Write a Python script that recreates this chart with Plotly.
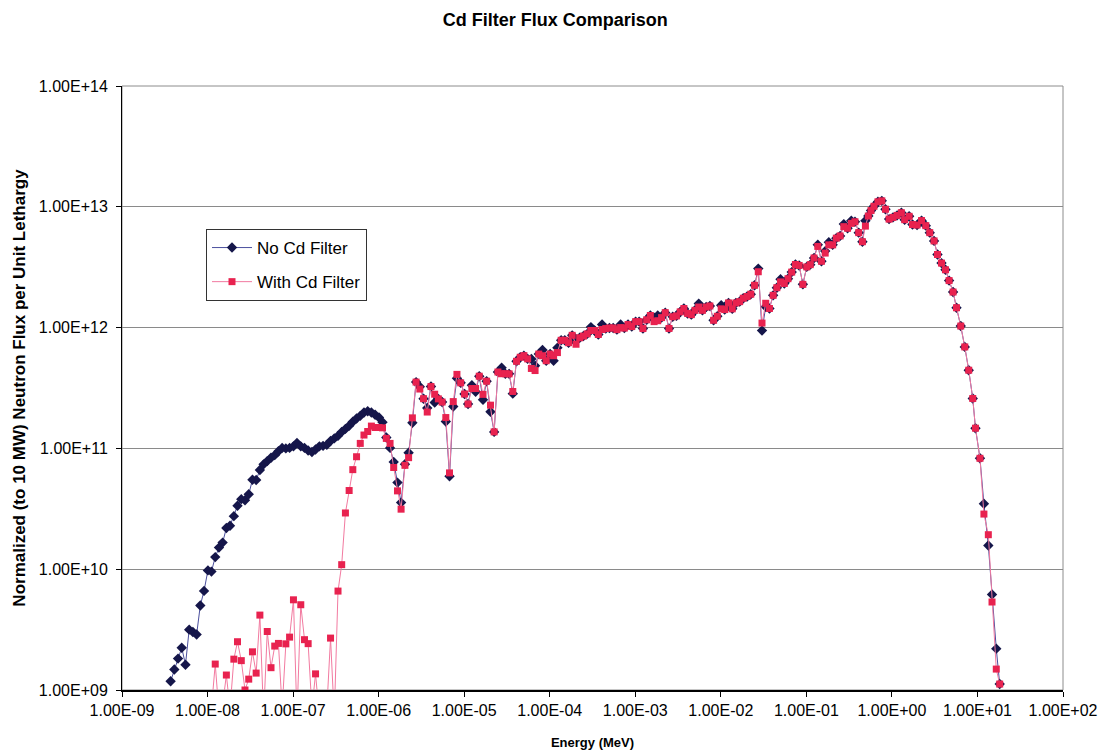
import plotly.graph_objects as go

# Group energies (MeV), lethargy-type grid, ascending
energy_mev = [
    3.70e-9, 4.09e-9, 4.52e-9, 4.99e-9, 5.52e-9, 6.10e-9, 6.74e-9, 7.45e-9, 8.23e-9, 9.10e-9,
    1.01e-8, 1.11e-8, 1.23e-8, 1.36e-8, 1.50e-8, 1.66e-8, 1.83e-8,
    2.03e-8, 2.24e-8, 2.48e-8, 2.74e-8, 3.03e-8, 3.35e-8, 3.70e-8, 4.09e-8, 4.52e-8, 4.99e-8,
    5.52e-8, 6.10e-8, 6.74e-8, 7.45e-8, 8.23e-8, 9.10e-8, 1.01e-7, 1.11e-7, 1.23e-7, 1.36e-7,
    1.50e-7, 1.66e-7, 1.83e-7,
    2.03e-7, 2.24e-7, 2.48e-7, 2.74e-7, 3.03e-7, 3.35e-7, 3.70e-7, 4.09e-7, 4.52e-7, 4.99e-7,
    5.52e-7, 6.10e-7, 6.74e-7, 7.45e-7, 8.23e-7, 9.10e-7, 1.01e-6, 1.11e-6, 1.23e-6, 1.36e-6,
    1.50e-6, 1.66e-6, 1.83e-6,
    2.03e-6, 2.24e-6, 2.48e-6, 2.74e-6, 3.03e-6, 3.35e-6, 3.70e-6, 4.09e-6, 4.52e-6, 4.99e-6,
    5.52e-6, 6.10e-6, 6.74e-6, 7.45e-6, 8.23e-6, 9.10e-6, 1.01e-5, 1.11e-5, 1.23e-5, 1.36e-5,
    1.50e-5, 1.66e-5, 1.83e-5,
    2.03e-5, 2.24e-5, 2.48e-5, 2.74e-5, 3.03e-5, 3.35e-5, 3.70e-5, 4.09e-5, 4.52e-5, 4.99e-5,
    5.52e-5, 6.10e-5, 6.74e-5, 7.45e-5, 8.23e-5, 9.10e-5, 1.01e-4, 1.11e-4, 1.23e-4, 1.36e-4,
    1.50e-4, 1.66e-4, 1.83e-4,
    2.03e-4, 2.24e-4, 2.48e-4, 2.74e-4, 3.03e-4, 3.35e-4, 3.70e-4, 4.09e-4, 4.52e-4, 4.99e-4,
    5.52e-4, 6.10e-4, 6.74e-4, 7.45e-4, 8.23e-4, 9.10e-4, 1.01e-3, 1.11e-3, 1.23e-3, 1.36e-3,
    1.50e-3, 1.66e-3, 1.83e-3,
    2.03e-3, 2.24e-3, 2.48e-3, 2.74e-3, 3.03e-3, 3.35e-3, 3.70e-3, 4.09e-3, 4.52e-3, 4.99e-3,
    5.52e-3, 6.10e-3, 6.74e-3, 7.45e-3, 8.23e-3, 9.10e-3, 1.01e-2, 1.11e-2, 1.23e-2, 1.36e-2,
    1.50e-2, 1.66e-2, 1.83e-2,
    2.03e-2, 2.24e-2, 2.48e-2, 2.74e-2, 3.03e-2, 3.35e-2, 3.70e-2, 4.09e-2, 4.52e-2, 4.99e-2,
    5.52e-2, 6.10e-2, 6.74e-2, 7.45e-2, 8.23e-2, 9.10e-2, 1.01e-1, 1.11e-1, 1.23e-1, 1.36e-1,
    1.50e-1, 1.66e-1, 1.83e-1,
    2.03e-1, 2.24e-1, 2.48e-1, 2.74e-1, 3.03e-1, 3.35e-1, 3.70e-1, 4.09e-1, 4.52e-1,
    0.490, 0.530, 0.570, 0.617, 0.687, 0.762, 0.841, 0.927, 1.03, 1.15,
    1.29, 1.41, 1.59, 1.74, 1.97, 2.22, 2.49, 2.77, 3.11, 3.41,
    3.80, 4.23, 4.66, 5.19, 5.69, 6.38, 7.11, 7.91, 8.81, 9.48,
    10.7, 11.9, 13.4, 14.8, 16.6, 18.2,
]

# Flux per unit lethargy, no cadmium filter
flux_no_cd = [
    1.18e9, 1.48e9, 1.82e9, 2.24e9, 1.62e9, 3.16e9, 3.02e9, 2.88e9, 5.01e9, 6.61e9,
    9.77e9, 9.55e9, 1.26e10, 1.51e10, 1.66e10, 2.19e10, 2.29e10, 2.75e10, 3.35e10, 3.80e10,
    3.72e10, 4.17e10, 5.50e10, 5.47e10, 6.62e10, 7.38e10, 7.85e10, 8.36e10, 8.79e10, 9.46e10,
    1.01e11, 1.00e11, 1.01e11, 1.04e11, 1.11e11, 1.04e11, 1.01e11, 9.62e10, 9.33e10, 9.79e10,
    1.04e11, 1.05e11, 1.07e11, 1.15e11, 1.21e11, 1.27e11, 1.37e11, 1.45e11, 1.54e11, 1.66e11,
    1.77e11, 1.86e11, 1.98e11, 2.03e11, 1.98e11, 1.90e11, 1.80e11, 1.65e11, 1.23e11, 1.01e11,
    7.73e10, 5.21e10, 3.56e10, 7.41e10, 9.20e10, 1.63e11, 3.54e11, 3.24e11, 2.58e11, 2.16e11,
    3.25e11, 2.40e11, 2.57e11, 2.42e11, 1.67e11, 5.87e10, 2.22e11, 3.80e11, 3.49e11, 2.82e11,
    2.33e11, 3.33e11, 2.94e11, 3.96e11, 2.53e11, 3.60e11, 2.01e11, 1.37e11, 4.29e11, 4.66e11,
    4.15e11, 4.14e11, 2.84e11, 5.26e11, 5.68e11, 5.86e11, 5.51e11, 5.50e11, 4.84e11, 6.04e11,
    6.52e11, 5.32e11, 6.04e11, 5.32e11, 6.82e11, 7.85e11, 7.85e11, 7.50e11, 8.63e11, 7.74e11,
    8.24e11, 8.51e11, 8.87e11, 1.01e12, 9.46e11, 8.77e11, 1.06e12, 9.82e11, 9.93e11, 9.93e11,
    9.62e11, 1.06e12, 9.91e11, 1.06e12, 1.02e12, 1.12e12, 1.12e12, 9.82e11, 1.16e12, 1.26e12,
    1.21e12, 1.26e12, 1.21e12, 1.33e12, 9.84e11, 1.23e12, 1.25e12, 1.35e12, 1.44e12, 1.31e12,
    1.28e12, 1.39e12, 1.58e12, 1.39e12, 1.48e12, 1.51e12, 1.15e12, 1.24e12, 1.53e12, 1.41e12,
    1.60e12, 1.43e12, 1.60e12, 1.64e12, 1.75e12, 1.81e12, 1.89e12, 2.24e12, 3.08e12, 9.44e11,
    1.49e12, 1.44e12, 1.85e12, 2.14e12, 2.51e12, 2.32e12, 2.54e12, 2.88e12, 3.33e12, 3.27e12,
    2.28e12, 3.18e12, 3.32e12, 3.77e12, 4.85e12, 3.54e12, 4.30e12, 5.09e12, 4.84e12, 5.50e12,
    5.74e12, 7.19e12, 6.64e12, 7.67e12, 7.52e12, 6.11e12, 5.14e12,
    7.66e12, 8.39e12, 9.31e12, 1.01e13, 1.10e13, 1.12e13, 9.55e12, 7.91e12, 8.17e12, 8.49e12,
    8.93e12, 7.82e12, 8.34e12, 7.13e12, 7.06e12, 7.69e12, 6.98e12, 6.11e12, 5.22e12, 4.03e12,
    3.42e12, 3.01e12, 2.45e12, 1.97e12, 1.46e12, 1.03e12, 6.92e11, 4.44e11, 2.59e11, 1.47e11,
    8.28e10, 3.48e10, 1.57e10, 6.17e9, 2.20e9, 1.12e9,
]

# Flux per unit lethargy with cadmium filter (starts at the 12th group)
flux_with_cd = [
    7.0e8, 1.64e9, 6.5e8, 7.5e8, 1.33e9, 7.0e8, 1.80e9, 2.51e9, 1.75e9,
    1.00e9, 1.23e9, 2.07e9, 1.38e9, 4.17e9, 6.0e8, 3.05e9, 1.53e9, 2.31e9, 2.43e9,
    7.0e8, 2.41e9, 2.74e9, 5.58e9, 6.0e8, 5.08e9, 2.61e9, 2.42e9, 7.0e8, 1.36e9,
    6.0e8, 5.0e8, 7.0e8, 2.69e9, 6.0e8, 6.59e9, 1.09e10, 2.92e10, 4.48e10, 6.67e10,
    8.53e10, 1.10e11, 1.29e11, 1.38e11, 1.53e11, 1.49e11, 1.49e11, 1.48e11, 1.21e11, 1.10e11,
    6.95e10, 4.45e10, 3.14e10, 7.24e10, 8.38e10, 1.79e11, 3.54e11, 3.10e11, 2.58e11, 2.00e11,
    3.25e11, 2.81e11, 2.57e11, 2.42e11, 1.80e11, 6.27e10, 2.44e11, 4.10e11, 3.49e11, 2.82e11,
    2.33e11, 3.13e11, 3.13e11, 3.96e11, 2.80e11, 3.60e11, 2.28e11, 1.37e11, 4.29e11, 4.15e11,
    4.15e11, 4.14e11, 2.96e11, 5.26e11, 5.68e11, 5.86e11, 5.51e11, 4.59e11, 4.41e11, 6.04e11,
    5.85e11, 5.32e11, 6.04e11, 5.85e11, 6.21e11, 7.85e11, 7.85e11, 7.50e11, 8.63e11, 7.28e11,
    8.24e11, 8.51e11, 8.87e11, 9.46e11, 9.46e11, 8.77e11, 9.64e11, 9.82e11, 9.93e11, 9.93e11,
    9.62e11, 1.00e12, 9.91e11, 1.06e12, 1.02e12, 1.12e12, 1.12e12, 9.82e11, 1.16e12, 1.26e12,
    1.12e12, 1.14e12, 1.21e12, 1.33e12, 9.84e11, 1.23e12, 1.25e12, 1.35e12, 1.44e12, 1.31e12,
    1.28e12, 1.39e12, 1.48e12, 1.39e12, 1.48e12, 1.51e12, 1.15e12, 1.24e12, 1.43e12, 1.41e12,
    1.60e12, 1.43e12, 1.60e12, 1.64e12, 1.75e12, 1.81e12, 1.89e12, 2.24e12, 2.90e12, 1.09e12,
    1.59e12, 1.44e12, 1.85e12, 2.14e12, 2.39e12, 2.32e12, 2.54e12, 2.88e12, 3.33e12, 3.27e12,
    2.28e12, 3.18e12, 3.32e12, 3.77e12, 4.70e12, 3.54e12, 4.14e12, 4.84e12, 4.84e12, 5.50e12,
    5.74e12, 6.85e12, 6.64e12, 7.29e12, 7.52e12, 6.11e12, 5.14e12,
    6.92e12, 8.39e12, 9.31e12, 1.01e13, 1.10e13, 1.12e13, 9.55e12, 7.91e12, 8.17e12, 8.49e12,
    8.93e12, 7.82e12, 8.34e12, 7.13e12, 7.06e12, 7.69e12, 6.98e12, 6.11e12, 5.22e12, 4.03e12,
    3.42e12, 3.01e12, 2.45e12, 1.97e12, 1.46e12, 1.03e12, 6.92e11, 4.44e11, 2.59e11, 1.47e11,
    8.28e10, 2.86e10, 1.93e10, 5.35e9, 1.49e9, 1.12e9,
]
with_cd_start = len(energy_mev) - len(flux_with_cd)

x_tick_vals = [1e-9, 1e-8, 1e-7, 1e-6, 1e-5, 1e-4, 1e-3, 1e-2, 1e-1, 1e0, 1e1, 1e2]
x_tick_text = ["1.00E-09", "1.00E-08", "1.00E-07", "1.00E-06", "1.00E-05", "1.00E-04",
               "1.00E-03", "1.00E-02", "1.00E-01", "1.00E+00", "1.00E+01", "1.00E+02"]
y_tick_vals = [1e9, 1e10, 1e11, 1e12, 1e13, 1e14]
y_tick_text = ["1.00E+09", "1.00E+10", "1.00E+11", "1.00E+12", "1.00E+13", "1.00E+14"]

FONT = "Liberation Sans, Arial, sans-serif"

fig = go.Figure()
fig.add_trace(go.Scatter(
    x=energy_mev, y=flux_no_cd, name="No Cd Filter", mode="lines+markers",
    legendgroup="a",
    line=dict(color="#4b4f9e", width=1),
    marker=dict(symbol="diamond", size=8, color="#15164a", line=dict(width=0)),
))
fig.add_trace(go.Scatter(
    x=energy_mev[with_cd_start:], y=flux_with_cd, name="With Cd Filter", mode="lines+markers",
    legendgroup="b",
    line=dict(color="#f27aa0", width=1),
    marker=dict(symbol="square", size=7, color="#e8224f", line=dict(width=0)),
))

fig.update_layout(
    width=1106, height=755,
    margin=dict(l=122, r=43, t=86, b=65),
    paper_bgcolor="white", plot_bgcolor="white",
    font=dict(family=FONT, size=16, color="black"),
    title=dict(text="<b>Cd Filter Flux Comparison</b>", x=0.502, xanchor="center",
               y=1 - 20 / 755, yanchor="middle", font=dict(size=18)),
    showlegend=True,
    legend=dict(x=(206 - 122) / 941, y=1 - (229 - 86) / 604, xanchor="left", yanchor="top",
                bordercolor="#333333", borderwidth=1, bgcolor="white",
                font=dict(size=17), tracegroupgap=9, itemwidth=40),
    shapes=[dict(type="rect", xref="paper", yref="paper", x0=0, y0=0, x1=1, y1=1,
                 line=dict(color="#8c8c8c", width=1), layer="below")],
)
fig.update_xaxes(
    type="log", range=[-9, 2], tickvals=x_tick_vals, ticktext=x_tick_text,
    showgrid=False, zeroline=False, showline=True, linecolor="black", linewidth=2,
    ticks="outside", ticklen=5, tickcolor="black", automargin=False,
    title=dict(text="<b>Energy (MeV)</b>", font=dict(size=13), standoff=20),
)
fig.update_yaxes(
    type="log", range=[9, 14], tickvals=y_tick_vals, ticktext=y_tick_text,
    showgrid=True, gridcolor="#8a8a8a", gridwidth=1, zeroline=False,
    showline=True, linecolor="black", linewidth=1, automargin=False,
    ticks="outside", ticklen=5, tickcolor="black", ticklabelstandoff=5,
    title=dict(text="<b>Normalized (to 10 MW) Neutron Flux per Unit Lethargy</b>",
               font=dict(size=17), standoff=8),
)

fig.write_html("out.html")
